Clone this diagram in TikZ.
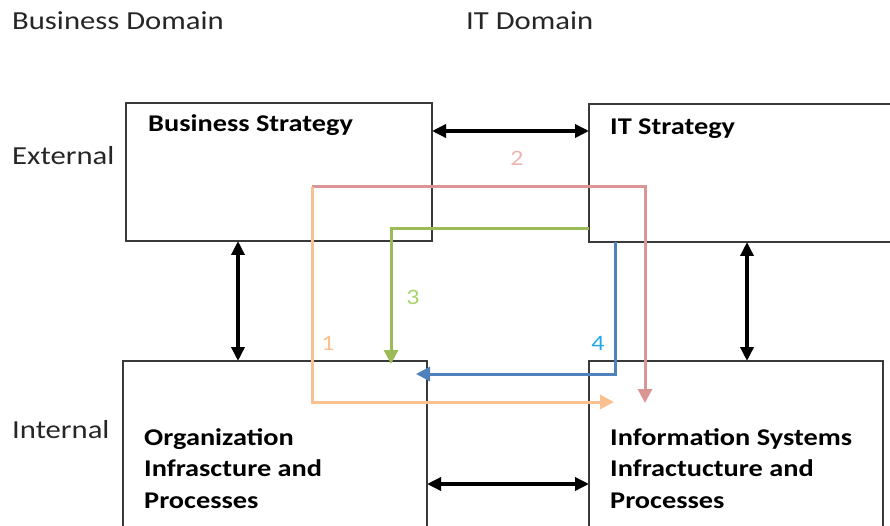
\documentclass[tikz,border=0pt]{standalone}
\usepackage{fontspec}
\setmainfont{Carlito}[FakeStretch=1.18]
\usetikzlibrary{arrows.meta,calc}
\definecolor{boxline}{HTML}{3A3A3A}
\definecolor{c1}{HTML}{FAC090}
\definecolor{c2}{HTML}{D99694}
\definecolor{c2l}{HTML}{EEB4B2}
\definecolor{c3}{HTML}{9BBB59}
\definecolor{c3l}{HTML}{A8D46A}
\definecolor{c4}{HTML}{4F81BD}
\definecolor{c4l}{HTML}{22A8E8}
\tikzset{
  box/.style={draw=boxline, line width=2pt, rectangle, inner sep=0pt, outer sep=0pt},
  hdr/.style={inner sep=0pt, anchor=base west, font=\fontsize{26}{31}\selectfont, text=black!85},
  btxt/.style={inner sep=0pt, anchor=base west, align=left, font=\fontsize{24}{31.5}\selectfont\bfseries, text=black},
  num/.style={inner sep=0pt, font=\fontsize{22}{26}\selectfont},
  dbl/.style={line width=3.4pt, black, {Triangle[length=14pt,width=13pt]}-{Triangle[length=14pt,width=13pt]}},
  flow/.style={line width=3pt, -{Triangle[length=14pt,width=14pt]}}
}
\begin{document}
\begin{tikzpicture}[x=1pt, y=-1pt]
\useasboundingbox (0,0) rectangle (890,526);
% boxes
\node[box, minimum width=306pt, minimum height=138pt] (bs) at (279,172) {};
\node[box, minimum width=306pt, minimum height=138pt] (its) at (742,173) {};
\node[box, minimum width=304pt, minimum height=190pt] (org) at (275,456) {};
\node[box, minimum width=294pt, minimum height=190pt] (is) at (736,456) {};
% headers
\node[hdr] (bd) at (12,30) {Business Domain};
\node[hdr] (itd) at (466,30) {IT Domain};
\node[hdr] (ext) at (12,165) {External};
\node[hdr] (int) at (12,438) {Internal};
% box texts
\node[btxt] (bst) at (148,132) {Business Strategy};
\node[btxt] (itst) at (610,135) {IT Strategy};
\node[btxt] (orgt) at (144,508) {Organization\\Infrascture and\\Processes};
\node[btxt] (ist) at (610,508) {Information Systems\\Infractucture and\\Processes};
% helper coordinates
\coordinate (yTop) at (0,131);
\coordinate (yBot) at (0,484);
\coordinate (xL) at (238,0);
\coordinate (xR) at (747,0);
% black double arrows
\draw[dbl] (bs.east |- yTop) -- (its.west |- yTop);
\draw[dbl] (org.east |- yBot) -- (is.west |- yBot);
\draw[dbl] (bs.south -| xL) -- (org.north -| xL);
\draw[dbl] (its.south -| xR) -- (is.north -| xR);
% colored flows
\coordinate (s12) at (312,187);
\coordinate (c1b) at (312,402);
\coordinate (e1) at (614,402);
\coordinate (c2a) at (645,187);
\coordinate (e2) at (645,403);
\coordinate (s3) at (589,229);
\coordinate (c3a) at (391,229);
\coordinate (e3) at (391,364);
\coordinate (s4) at (615,242);
\coordinate (c4a) at (615,374);
\coordinate (e4) at (416,374);
\draw[flow, c2] (s12) -- (c2a) -- (e2);
\draw[flow, c1] (s12) -- (c1b) -- (e1);
\draw[flow, c3] (s3) -- (c3a) -- (e3);
\draw[flow, c4] (s4) -- (c4a) -- (e4);
% numbers
\node[num, text=c1] (n1) at (328,343) {1};
\node[num, text=c2l] (n2) at (517,158) {2};
\node[num, text=c3l] (n3) at (413,297) {3};
\node[num, text=c4l] (n4) at (598,343) {4};
\end{tikzpicture}
\end{document}
